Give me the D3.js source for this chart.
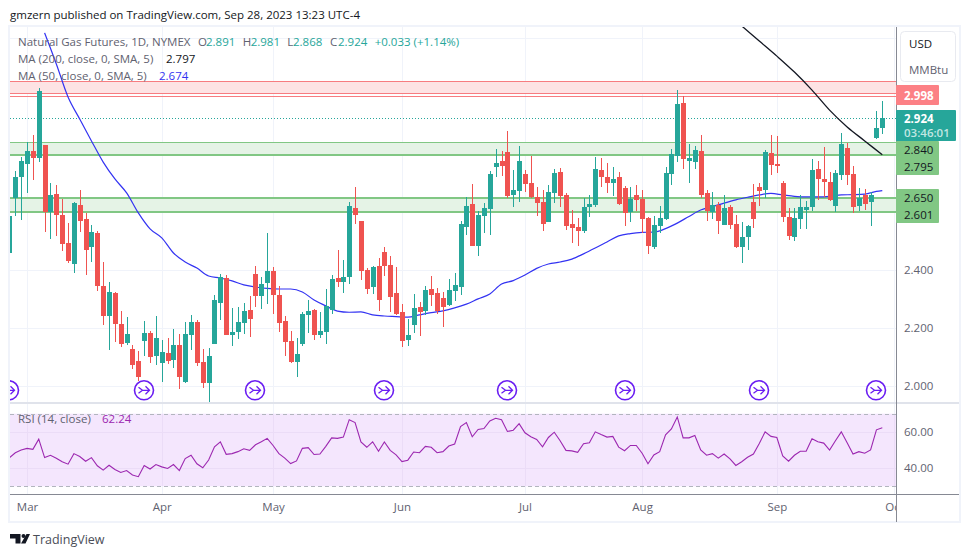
<!DOCTYPE html>
<html>
<head>
<meta charset="utf-8">
<script src="https://cdn.jsdelivr.net/npm/d3@7"></script>
<style>
  html, body { margin: 0; padding: 0; background: #fff; }
  text { font-family: "Open Sans", sans-serif; }
</style>
</head>
<body>
<svg id="chart" width="970" height="557"></svg>
<script>
// Natural Gas Futures, daily candles
const opens = [2.460,2.649,2.721,2.766,2.810,2.786,2.831,2.600,2.662,2.590,2.494,2.421,2.624,2.576,2.480,2.528,2.346,2.242,2.321,2.215,
  2.149,2.129,2.087,2.156,2.184,2.105,2.080,2.115,2.091,2.142,2.015,2.177,2.222,2.084,2.012,2.146,2.287,2.373,2.177,2.187,
  2.218,2.263,2.387,2.311,2.356,2.397,2.315,2.225,2.156,2.084,2.146,2.246,2.263,2.177,2.187,2.263,2.373,2.359,2.377,2.614,
  2.569,2.401,2.342,2.414,2.463,2.418,2.321,2.256,2.160,2.211,2.273,2.259,2.335,2.321,2.304,2.280,2.328,2.342,2.549,2.628,
  2.483,2.587,2.611,2.755,2.776,2.807,2.659,2.673,2.731,2.700,2.652,2.635,2.566,2.666,2.738,2.659,2.559,2.549,2.535,2.618,
  2.624,2.745,2.721,2.700,2.721,2.683,2.600,2.659,2.645,2.580,2.480,2.552,2.576,2.731,2.793,2.976,2.776,2.773,2.810,2.666,
  2.600,2.624,2.556,2.618,2.559,2.480,2.514,2.635,2.686,2.676,2.804,2.766,2.700,2.583,2.514,2.576,2.607,2.618,2.748,2.714,
  2.704,2.621,2.728,2.821,2.731,2.621,2.659,2.635,2.855,2.891];
const highs = [2.587,2.742,2.789,2.840,2.866,3.026,2.831,2.700,2.693,2.645,2.563,2.635,2.676,2.597,2.556,2.535,2.428,2.359,2.325,2.259,
  2.239,2.142,2.122,2.225,2.191,2.242,2.160,2.167,2.198,2.180,2.222,2.246,2.228,2.129,2.132,2.315,2.387,2.383,2.270,2.273,
  2.287,2.311,2.414,2.377,2.528,2.411,2.346,2.242,2.191,2.167,2.256,2.297,2.266,2.256,2.335,2.383,2.469,2.435,2.635,2.686,
  2.569,2.407,2.414,2.442,2.480,2.449,2.411,2.284,2.232,2.318,2.290,2.346,2.380,2.339,2.325,2.370,2.390,2.569,2.652,2.697,
  2.604,2.631,2.742,2.817,2.810,2.879,2.745,2.828,2.745,2.793,2.686,2.676,2.693,2.748,2.752,2.666,2.607,2.580,2.649,2.659,
  2.790,2.786,2.769,2.755,2.738,2.690,2.686,2.693,2.676,2.583,2.587,2.621,2.755,2.817,3.020,3.000,2.835,2.828,2.866,2.676,
  2.669,2.635,2.659,2.624,2.590,2.566,2.556,2.697,2.700,2.814,2.866,2.862,2.707,2.614,2.614,2.659,2.638,2.783,2.776,2.824,
  2.738,2.745,2.872,2.838,2.759,2.683,2.680,2.669,2.948,2.981];
const lows = [2.460,2.588,2.571,2.666,2.711,2.773,2.532,2.507,2.518,2.466,2.425,2.390,2.532,2.383,2.428,2.328,2.211,2.125,2.153,2.136,
  2.142,2.060,2.018,2.105,2.080,2.074,2.015,2.077,2.063,1.991,2.012,2.125,2.070,1.994,1.946,2.146,2.228,2.177,2.139,2.163,
  2.180,2.170,2.273,2.266,2.284,2.249,2.187,2.105,2.080,2.032,2.139,2.184,2.160,2.167,2.146,2.249,2.342,2.321,2.352,2.559,
  2.366,2.318,2.318,2.259,2.380,2.256,2.246,2.136,2.139,2.184,2.173,2.246,2.277,2.249,2.204,2.277,2.294,2.315,2.521,2.483,
  2.449,2.528,2.521,2.721,2.724,2.649,2.618,2.635,2.669,2.649,2.587,2.535,2.566,2.631,2.618,2.538,2.494,2.483,2.528,2.583,
  2.618,2.686,2.666,2.655,2.624,2.552,2.566,2.604,2.528,2.456,2.473,2.528,2.573,2.693,2.773,2.748,2.700,2.748,2.647,2.569,
  2.576,2.525,2.556,2.542,2.476,2.425,2.469,2.545,2.621,2.649,2.728,2.735,2.566,2.504,2.500,2.542,2.542,2.604,2.642,2.652,
  2.638,2.600,2.711,2.693,2.597,2.604,2.607,2.552,2.852,2.868];
const closes = [2.587,2.721,2.776,2.810,2.786,3.017,2.600,2.659,2.590,2.490,2.432,2.631,2.569,2.469,2.532,2.346,2.242,2.325,2.215,2.146,
  2.180,2.074,2.032,2.184,2.101,2.167,2.118,2.087,2.142,2.032,2.180,2.222,2.080,2.012,2.105,2.297,2.377,2.177,2.187,2.222,
  2.259,2.232,2.311,2.352,2.397,2.315,2.218,2.153,2.084,2.111,2.249,2.259,2.177,2.191,2.277,2.370,2.359,2.377,2.621,2.590,
  2.397,2.335,2.411,2.297,2.414,2.308,2.249,2.156,2.177,2.270,2.256,2.332,2.315,2.259,2.273,2.332,2.349,2.559,2.621,2.483,
  2.590,2.614,2.731,2.769,2.759,2.655,2.676,2.776,2.697,2.652,2.631,2.559,2.669,2.735,2.655,2.552,2.545,2.535,2.618,2.628,
  2.748,2.721,2.700,2.714,2.628,2.597,2.645,2.642,2.576,2.483,2.556,2.580,2.735,2.800,2.972,2.783,2.786,2.814,2.659,2.604,
  2.624,2.569,2.614,2.556,2.480,2.514,2.552,2.576,2.673,2.807,2.762,2.759,2.583,2.518,2.580,2.618,2.618,2.745,2.714,2.704,
  2.642,2.735,2.835,2.728,2.618,2.649,2.628,2.659,2.891,2.924];

// moving averages, read at the candle numbers in the *Idx lists
const ma50Idx = [6,8,10,12,14,16,18,20,22,24,26,28,30,32,34,36,38,40,42,44,46,48,50,52,54,56,58,60,62,64,66,68,70,72,74,76,78,80,82,84,86,88,90,92,94,96,98,100,102,104,106,108,110,112,114,116,118,120,122,124,126,128,130,132,134,136,138,140,142,144,146,148,149];
const ma50 = [3.217,3.110,2.996,2.920,2.845,2.772,2.714,2.666,2.597,2.542,2.511,2.459,2.428,2.407,2.380,2.373,2.363,2.349,2.342,2.337,2.335,2.335,2.325,2.297,2.277,2.259,2.255,2.256,2.246,2.242,2.240,2.238,2.246,2.254,2.260,2.270,2.283,2.301,2.318,2.352,2.364,2.383,2.406,2.421,2.428,2.438,2.456,2.476,2.497,2.518,2.526,2.530,2.531,2.543,2.562,2.585,2.607,2.619,2.631,2.642,2.651,2.659,2.664,2.659,2.654,2.652,2.652,2.654,2.659,2.660,2.662,2.671,2.674];
const ma200Idx = [125,128,131,134,137,140,143,146,149];
const ma200 = [3.241,3.189,3.137,3.082,3.020,2.951,2.893,2.845,2.797];

const rsi = [45.8,48.5,50.0,50.9,50.4,56.0,45.8,47.1,45.5,43.5,42.2,48.0,46.4,43.8,45.8,41.3,38.9,41.6,39.3,37.6,
  38.7,36.2,35.3,41.5,39.5,42.0,40.7,39.8,42.0,38.7,45.3,47.1,42.4,40.2,44.5,51.8,54.5,47.6,48.0,49.1,
  50.7,49.8,52.9,54.5,56.4,52.5,48.0,45.5,42.5,44.0,50.9,51.3,47.5,47.8,52.0,56.7,56.4,57.1,66.7,65.1,
  54.4,51.5,54.5,49.3,54.4,49.8,47.3,43.6,44.4,48.9,48.5,52.0,51.5,48.5,49.1,52.2,53.3,62.9,65.1,57.3,
  61.3,61.8,66.0,67.5,66.7,60.2,60.9,64.5,59.5,57.3,55.8,51.8,56.9,59.8,55.1,49.8,49.5,48.7,53.5,54.0,
  60.0,58.5,57.1,57.5,51.6,49.6,52.5,52.5,48.2,42.4,47.3,49.1,58.4,61.6,68.2,56.7,56.7,58.0,50.0,47.1,
  48.0,45.5,47.8,45.1,41.5,43.5,46.0,47.8,53.6,60.0,57.5,56.9,46.7,43.8,47.1,49.3,49.3,56.2,54.5,53.8,
  50.0,55.1,60.0,54.0,47.8,49.1,48.2,50.0,61.1,62.24];

const monthLabels = ['Mar','Apr','May','Jun','Jul','Aug','Sep','Oct'];
const monthIdx = [3,26,45,67,88,108,131,151];
const priceTicks = [2.0,2.2,2.4];
const priceGrid = [2.0,2.2,2.4,2.6,2.8,3.0,3.2];
const rsiTicks = [60,40];
const ideaIdx = [0,23,42,64,85,105,128,148];

// zones drawn on the chart: [top, bottom]
const redZone = [3.050,3.009];
const redLine = 2.998;
const greenZones = [[2.840,2.795],[2.650,2.601]];

const CHART = { left: 10, right: 897, top: 27, mainBottom: 403, rsiBottom: 494, bottom: 522, outer: 959 };
const UP = '#26a69a', DOWN = '#ef5350', GRID = '#f0f3fa', AXIS = '#868993', TEXT = '#5f6270';
const FONT_SIZE = 11.5;

const svg = d3.select('#chart');
const x = d3.scaleLinear().domain([0, 149]).range([9.46, 882.3]);
const y = d3.scaleLinear().domain([2, 3]).range([386.3, 95.9]);
const yRsi = d3.scaleLinear().domain([70, 30]).range([413.7, 486.3]);

const defs = svg.append('defs');
defs.append('clipPath').attr('id', 'main-clip').append('rect')
  .attr('x', CHART.left).attr('y', CHART.top)
  .attr('width', CHART.right - CHART.left).attr('height', CHART.mainBottom - CHART.top);
defs.append('clipPath').attr('id', 'rsi-clip').append('rect')
  .attr('x', CHART.left).attr('y', CHART.mainBottom)
  .attr('width', CHART.right - CHART.left).attr('height', CHART.rsiBottom - CHART.mainBottom);
defs.append('clipPath').attr('id', 'time-clip').append('rect')
  .attr('x', CHART.left).attr('y', CHART.rsiBottom)
  .attr('width', CHART.right - CHART.left).attr('height', CHART.bottom - CHART.rsiBottom);

function label(parent, str, px, py, opts = {}) {
  return parent.append('text')
    .attr('x', px).attr('y', py)
    .attr('font-size', opts.size || FONT_SIZE)
    .attr('font-weight', opts.weight || 400)
    .attr('fill', opts.fill || TEXT)
    .attr('text-anchor', opts.anchor || 'start')
    .text(str);
}

function renderHeader() {
  label(svg, 'gmzern published on TradingView.com, Sep 28, 2023 13:23 UTC-4', 10, 19, { fill: '#131722' });
}

function renderFrame() {
  svg.append('rect')
    .attr('x', CHART.left - 1).attr('y', CHART.top - 1)
    .attr('width', 951).attr('height', CHART.bottom - CHART.top + 1)
    .attr('fill', '#fff').attr('stroke', GRID).attr('stroke-width', 2);
}

function renderGrid() {
  const g = svg.append('g').attr('shape-rendering', 'crispEdges');
  const main = g.append('g').attr('clip-path', 'url(#main-clip)');
  main.selectAll('line.h').data(priceGrid).join('line').attr('class', 'h')
    .attr('x1', CHART.left).attr('x2', CHART.right)
    .attr('y1', d => Math.round(y(d))).attr('y2', d => Math.round(y(d)))
    .attr('stroke', GRID);
  g.selectAll('line.v').data(monthIdx).join('line').attr('class', 'v')
    .attr('x1', d => Math.round(x(d))).attr('x2', d => Math.round(x(d)))
    .attr('y1', CHART.top).attr('y2', CHART.rsiBottom)
    .attr('stroke', GRID);
}

function renderZones() {
  const g = svg.append('g').attr('clip-path', 'url(#main-clip)').attr('shape-rendering', 'crispEdges');
  const hline = (val, color, w) => g.append('line')
    .attr('x1', CHART.left).attr('x2', CHART.right)
    .attr('y1', Math.round(y(val))).attr('y2', Math.round(y(val)))
    .attr('stroke', color).attr('stroke-width', w);

  g.append('rect')
    .attr('x', CHART.left).attr('width', CHART.right - CHART.left)
    .attr('y', y(redZone[0])).attr('height', y(redZone[1]) - y(redZone[0]))
    .attr('fill', '#fde3e4');
  hline(redZone[0], '#f77c80', 1);
  hline(redZone[1], '#f77c80', 1);
  hline(redLine, '#f77c80', 1);

  g.selectAll('rect.zone').data(greenZones).join('rect').attr('class', 'zone')
    .attr('x', CHART.left).attr('width', CHART.right - CHART.left)
    .attr('y', d => y(d[0])).attr('height', d => y(d[1]) - y(d[0]))
    .attr('fill', '#e5f3e6');
  hline(greenZones[0][0], '#81c784', 1);
  hline(greenZones[0][1], '#81c784', 2);
  hline(greenZones[1][0], '#81c784', 2);
  hline(greenZones[1][1], '#81c784', 2);

  // last price
  g.append('line')
    .attr('x1', CHART.left).attr('x2', CHART.right)
    .attr('y1', Math.round(y(closes[149])) + 0.5).attr('y2', Math.round(y(closes[149])) + 0.5)
    .attr('stroke', UP).attr('stroke-dasharray', '1 2');
}

function renderMAs() {
  const g = svg.append('g').attr('clip-path', 'url(#main-clip)').attr('fill', 'none');
  const line = (idx, vals) => d3.line().x((d, i) => x(idx[i])).y(d => y(d)).curve(d3.curveMonotoneX)(vals);
  g.append('path').attr('d', line(ma50Idx, ma50)).attr('stroke', '#3333f2').attr('stroke-width', 1.2);
  g.append('path').attr('d', line(ma200Idx, ma200)).attr('stroke', '#131722').attr('stroke-width', 1.3);
}

function renderCandles() {
  const g = svg.append('g').attr('clip-path', 'url(#main-clip)').attr('shape-rendering', 'crispEdges');
  const color = i => closes[i] >= opens[i] ? UP : DOWN;
  const idx = d3.range(opens.length);

  g.selectAll('rect.wick').data(idx).join('rect').attr('class', 'wick')
    .attr('x', i => Math.round(x(i)))
    .attr('y', i => Math.round(y(highs[i])))
    .attr('width', 1)
    .attr('height', i => Math.round(y(lows[i])) - Math.round(y(highs[i])))
    .attr('fill', color);

  g.selectAll('rect.body').data(idx).join('rect').attr('class', 'body')
    .attr('x', i => Math.round(x(i)) - 2)
    .attr('y', i => Math.round(y(Math.max(opens[i], closes[i]))))
    .attr('width', 5)
    .attr('height', i => Math.max(1, Math.round(y(Math.min(opens[i], closes[i]))) - Math.round(y(Math.max(opens[i], closes[i])))))
    .attr('fill', color);
}

function renderIdeas() {
  const g = svg.append('g').attr('clip-path', 'url(#main-clip)');
  const icon = g.selectAll('g').data(ideaIdx).join('g')
    .attr('transform', d => `translate(${Math.round(x(d))},390.3)`)
    .attr('fill', 'none').attr('stroke', '#6a1df2');
  icon.append('circle').attr('r', 9.5).attr('stroke-width', 1.6).attr('fill', '#fff');
  icon.append('path')
    .attr('d', 'M-5.5 -3 L-1.5 0 L-5.5 3 M-1.5 0 H5.5 M1.5 -4 L5.5 0 L1.5 4')
    .attr('stroke-width', 1.3);
}

function renderRsi() {
  const g = svg.append('g').attr('clip-path', 'url(#rsi-clip)');
  g.append('rect')
    .attr('x', CHART.left).attr('width', CHART.right - CHART.left)
    .attr('y', yRsi(70)).attr('height', yRsi(30) - yRsi(70))
    .attr('fill', '#f4e6fd');
  g.selectAll('line.h').data(rsiTicks).join('line').attr('class', 'h')
    .attr('x1', CHART.left).attr('x2', CHART.right)
    .attr('y1', d => Math.round(yRsi(d))).attr('y2', d => Math.round(yRsi(d)))
    .attr('stroke', '#ebdcf7').attr('shape-rendering', 'crispEdges');
  g.selectAll('line.v').data(monthIdx).join('line').attr('class', 'v')
    .attr('x1', d => Math.round(x(d))).attr('x2', d => Math.round(x(d)))
    .attr('y1', yRsi(70)).attr('y2', yRsi(30))
    .attr('stroke', '#ebdcf7').attr('shape-rendering', 'crispEdges');
  g.selectAll('line.band').data([70, 30]).join('line').attr('class', 'band')
    .attr('x1', CHART.left).attr('x2', CHART.right)
    .attr('y1', d => Math.round(yRsi(d))).attr('y2', d => Math.round(yRsi(d)))
    .attr('stroke', '#b2b5be').attr('stroke-dasharray', '4 3').attr('shape-rendering', 'crispEdges');
  g.append('path')
    .attr('d', d3.line().x((d, i) => x(i)).y(d => yRsi(d))(rsi))
    .attr('fill', 'none').attr('stroke', '#9c27b0').attr('stroke-width', 1.1);
}

function styleAxis(g) {
  g.select('.domain').remove();
  g.selectAll('.tick line').remove();
  g.selectAll('.tick text')
    .attr('font-family', '"Open Sans", sans-serif')
    .attr('font-size', FONT_SIZE)
    .attr('fill', TEXT);
}

function renderAxes() {
  svg.append('g')
    .attr('transform', `translate(${CHART.right},0)`)
    .call(d3.axisRight(y).tickValues(priceTicks).tickFormat(d3.format('.3f')).tickSize(0).tickPadding(7))
    .call(styleAxis);
  svg.append('g')
    .attr('transform', `translate(${CHART.right},0)`)
    .call(d3.axisRight(yRsi).tickValues(rsiTicks).tickFormat(d3.format('.2f')).tickSize(0).tickPadding(7))
    .call(styleAxis);
  // clip sits on the outer group so it stays in page coordinates
  svg.append('g')
    .attr('clip-path', 'url(#time-clip)')
    .append('g')
    .attr('transform', `translate(0,${CHART.rsiBottom})`)
    .call(d3.axisBottom(x).tickValues(monthIdx).tickFormat((d, i) => monthLabels[i]).tickSize(0).tickPadding(9))
    .call(styleAxis);

  const lines = svg.append('g').attr('stroke', AXIS).attr('shape-rendering', 'crispEdges');
  lines.append('line').attr('x1', CHART.right - 1).attr('x2', CHART.right - 1).attr('y1', CHART.top).attr('y2', CHART.bottom);
  lines.append('line').attr('x1', CHART.left).attr('x2', CHART.outer).attr('y1', CHART.rsiBottom).attr('y2', CHART.rsiBottom);
  svg.append('line')
    .attr('x1', CHART.left).attr('x2', CHART.right - 1)
    .attr('y1', CHART.mainBottom).attr('y2', CHART.mainBottom)
    .attr('stroke', '#e0e3eb').attr('stroke-width', 1.5).attr('shape-rendering', 'crispEdges');
  svg.append('line')
    .attr('x1', CHART.right).attr('x2', CHART.outer)
    .attr('y1', CHART.mainBottom).attr('y2', CHART.mainBottom)
    .attr('stroke', '#e0e3eb').attr('stroke-width', 1.5).attr('shape-rendering', 'crispEdges');
}

function renderLegend() {
  const teal = { fill: UP };
  label(svg, 'Natural Gas Futures, 1D, NYMEX', 18, 46);
  label(svg, 'O', 198, 46);
  label(svg, '2.891', 206, 46, teal);
  label(svg, 'H', 242.7, 46);
  label(svg, '2.981', 250.7, 46, teal);
  label(svg, 'L', 287.3, 46);
  label(svg, '2.868', 293, 46, teal);
  label(svg, 'C', 330, 46);
  label(svg, '2.924', 338, 46, teal);
  label(svg, '+0.033 (+1.14%)', 374.7, 46, teal);
  label(svg, 'MA (200, close, 0, SMA, 5)', 18, 63);
  label(svg, '2.797', 166, 63, { fill: '#131722' });
  label(svg, 'MA (50, close, 0, SMA, 5)', 18, 80);
  label(svg, '2.674', 159, 80, { fill: '#3333f2' });
  label(svg, 'RSI (14, close)', 18, 423);
  label(svg, '62.24', 102, 423, { fill: '#9c27b0' });
}

function renderPriceLabels() {
  const g = svg.append('g');
  const box = (top, bottom, right, fill) => g.append('rect')
    .attr('x', CHART.right - 1).attr('y', top)
    .attr('width', right - CHART.right + 1).attr('height', bottom - top)
    .attr('rx', 1).attr('fill', fill);

  box(85, 105, 939, '#fc8085');
  label(g, '2.998', 904, y(redLine) + 3.5, { fill: '#fff', weight: 700 });
  box(110, 141, 956, UP);
  label(g, '2.924', 904, 122.5, { fill: '#fff', weight: 700 });
  label(g, '03:46:01', 904, 137, { fill: '#c2e6e2', weight: 600 });
  box(141, 175, 939, '#81c784');
  label(g, '2.840', 904, 153.5, { fill: '#131722' });
  label(g, '2.795', 904, 171, { fill: '#131722' });
  box(189, 223, 939, '#81c784');
  label(g, '2.650', 904, 201.5, { fill: '#131722' });
  label(g, '2.601', 904, 219, { fill: '#131722' });

  g.append('rect')
    .attr('x', 900.5).attr('y', 31.5).attr('width', 55).attr('height', 50)
    .attr('rx', 4).attr('fill', '#fff').attr('stroke', '#e8eaf0');
  label(g, 'USD', 909, 47.5, { fill: '#131722' });
  label(g, 'MMBtu', 909, 74);
}

function renderFooter() {
  svg.append('path')
    .attr('d', 'M10 534 H20.5 V543.5 H15.5 V538.5 H10 Z M26.5 534 H30 L25.5 543.5 H21 Z')
    .attr('fill', '#131722');
  svg.append('circle').attr('cx', 23.5).attr('cy', 536).attr('r', 2).attr('fill', '#131722');
  label(svg, 'TradingView', 33, 544, { size: 12.5, fill: '#4a4d57' });
}

renderHeader();
renderFrame();
renderGrid();
renderZones();
renderMAs();
renderCandles();
renderIdeas();
renderRsi();
renderAxes();
renderLegend();
renderPriceLabels();
renderFooter();
</script>
</body>
</html>
